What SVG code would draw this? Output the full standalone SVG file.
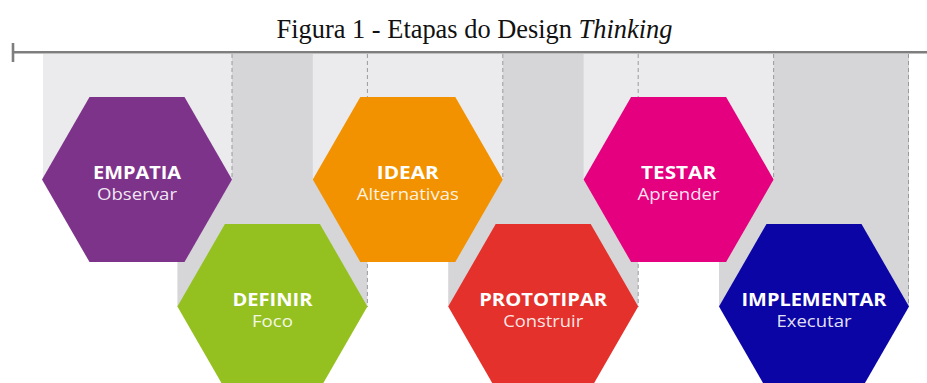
<svg xmlns="http://www.w3.org/2000/svg" width="927" height="383" viewBox="0 0 927 383">
<style>
.title{font-family:"Liberation Serif","Times New Roman",serif;font-size:26.4px;fill:#111;}
.light{fill:#ebebed;}
.dark{fill:#d6d6d9;}
.dash{stroke:#9a9a9e;stroke-width:1;stroke-dasharray:4 3;fill:none;}
.h{font-family:"Open Sans","Liberation Sans",sans-serif;font-weight:700;font-size:17px;fill:#fff;text-anchor:middle;}
.s{font-family:"Open Sans","Liberation Sans",sans-serif;font-weight:400;font-size:17px;fill:#fff;fill-opacity:0.9;text-anchor:middle;}
</style>
<defs>
<polygon id="hex" points="-95,0 -47.5,-82.5 47.5,-82.5 95,0 47.5,82.5 -47.5,82.5"/>
</defs>
<rect width="927" height="383" fill="#fff"/>
<text class="title" x="474.5" y="37.5" text-anchor="middle">Figura 1 - Etapas do Design <tspan font-style="italic">Thinking</tspan></text>
<g id="background">
<rect class="dark" x="177.4" y="54" width="190" height="253"/>
<rect class="dark" x="448.2" y="54" width="190" height="253"/>
<rect class="dark" x="719" y="54" width="190" height="253"/>
<rect class="light" x="43" y="54" width="189" height="126"/>
<rect class="light" x="312.8" y="54" width="190" height="126"/>
<rect class="light" x="583.6" y="54" width="190" height="126"/>
</g>
<g id="connectors">
<line class="dash" x1="232" y1="54" x2="232" y2="180"/>
<line class="dash" x1="367.4" y1="54" x2="367.4" y2="307"/>
<line class="dash" x1="502.8" y1="54" x2="502.8" y2="180"/>
<line class="dash" x1="638.2" y1="54" x2="638.2" y2="307"/>
<line class="dash" x1="773.6" y1="54" x2="773.6" y2="180"/>
<line class="dash" x1="908.5" y1="54" x2="908.5" y2="307"/>
</g>
<g id="axis">
<line x1="13" y1="52.3" x2="927" y2="52.3" stroke="#7e7e7e" stroke-width="2.6"/>
<line x1="13" y1="43" x2="13" y2="62" stroke="#7e7e7e" stroke-width="2.6"/>
</g>
<g id="empatia">
<use href="#hex" x="137" y="179.5" fill="#7e338b"/>
<text class="h" x="137" y="179" textLength="88" lengthAdjust="spacingAndGlyphs">EMPATIA</text>
<text class="s" x="137" y="200" textLength="80" lengthAdjust="spacingAndGlyphs">Observar</text>
</g>
<g id="definir">
<use href="#hex" x="272.4" y="306.5" fill="#94c120"/>
<text class="h" x="272.4" y="306" textLength="80" lengthAdjust="spacingAndGlyphs">DEFINIR</text>
<text class="s" x="272.4" y="327" textLength="41" lengthAdjust="spacingAndGlyphs">Foco</text>
</g>
<g id="idear">
<use href="#hex" x="407.8" y="179.5" fill="#f39200"/>
<text class="h" x="407.8" y="179" textLength="62" lengthAdjust="spacingAndGlyphs">IDEAR</text>
<text class="s" x="407.8" y="200" textLength="102" lengthAdjust="spacingAndGlyphs">Alternativas</text>
</g>
<g id="prototipar">
<use href="#hex" x="543.2" y="306.5" fill="#e4312b"/>
<text class="h" x="543.2" y="306" textLength="128" lengthAdjust="spacingAndGlyphs">PROTOTIPAR</text>
<text class="s" x="543.2" y="327" textLength="80" lengthAdjust="spacingAndGlyphs">Construir</text>
</g>
<g id="testar">
<use href="#hex" x="678.6" y="179.5" fill="#e4007e"/>
<text class="h" x="678.6" y="179" textLength="75" lengthAdjust="spacingAndGlyphs">TESTAR</text>
<text class="s" x="678.6" y="200" textLength="82" lengthAdjust="spacingAndGlyphs">Aprender</text>
</g>
<g id="implementar">
<use href="#hex" x="814" y="306.5" fill="#0b05a6"/>
<text class="h" x="814" y="306" textLength="145" lengthAdjust="spacingAndGlyphs">IMPLEMENTAR</text>
<text class="s" x="814" y="327" textLength="75" lengthAdjust="spacingAndGlyphs">Executar</text>
</g>
</svg>
